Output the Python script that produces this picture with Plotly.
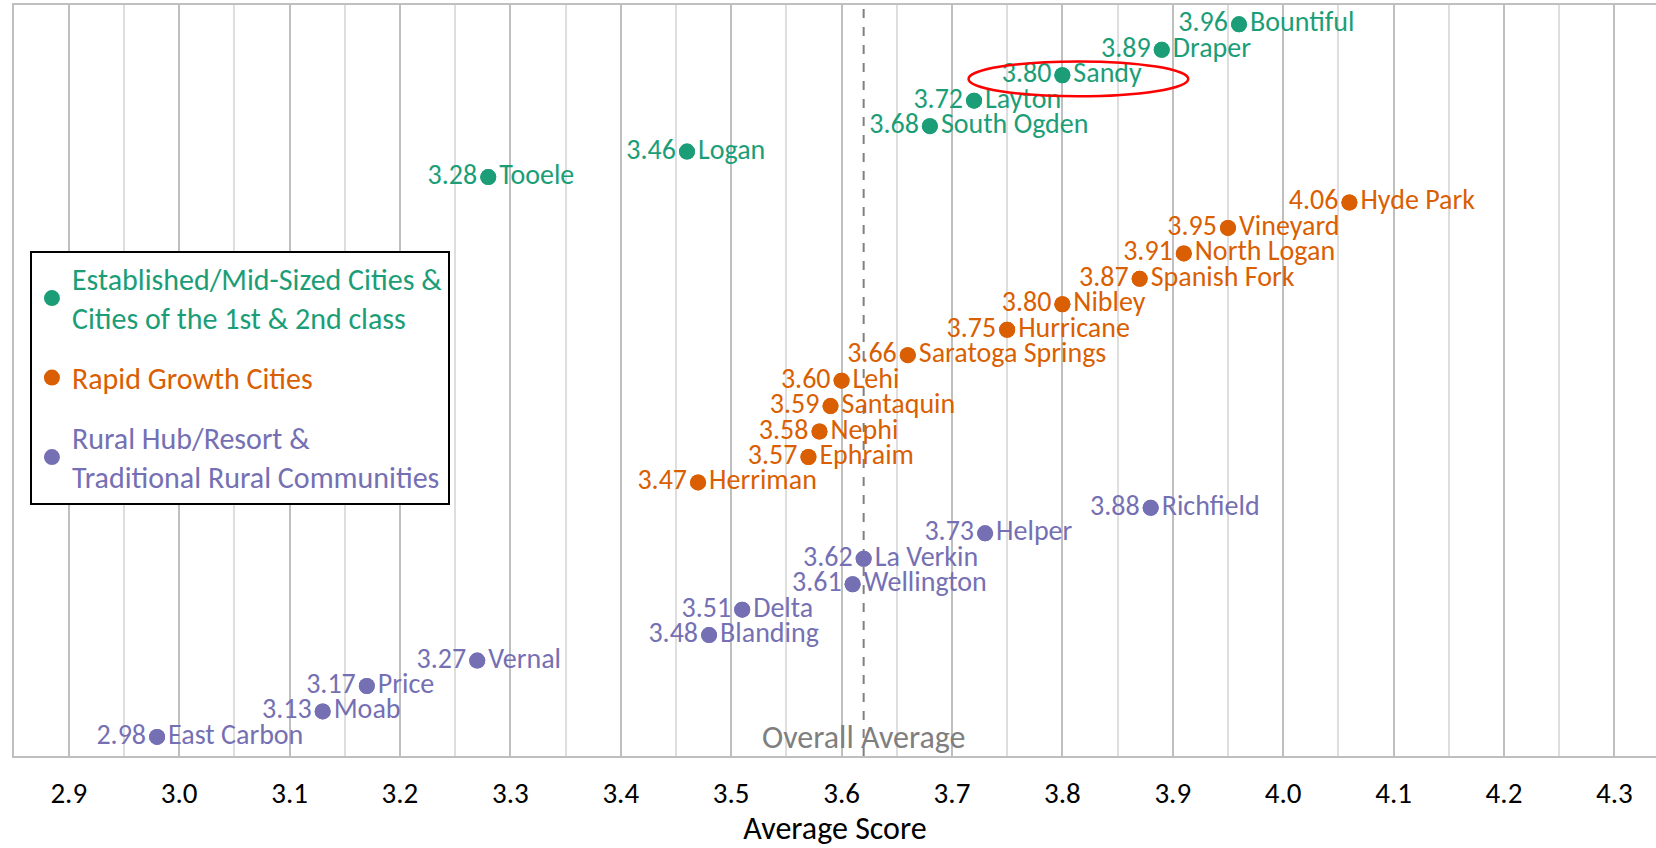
import plotly.graph_objects as go

# ---- data (top to bottom) ----
group_names = [
    "Established/Mid-Sized Cities &<br>Cities of the 1st & 2nd class",
    "Rapid Growth Cities",
    "Rural Hub/Resort &<br>Traditional Rural Communities",
]
group_colors = ["#1b9e77", "#d95f02", "#7570b3"]

established_cities = ["Bountiful", "Draper", "Sandy", "Layton", "South Ogden", "Logan", "Tooele"]
established_scores = [3.96, 3.89, 3.80, 3.72, 3.68, 3.46, 3.28]

rapid_cities = ["Hyde Park", "Vineyard", "North Logan", "Spanish Fork", "Nibley", "Hurricane",
                "Saratoga Springs", "Lehi", "Santaquin", "Nephi", "Ephraim", "Herriman"]
rapid_scores = [4.06, 3.95, 3.91, 3.87, 3.80, 3.75, 3.66, 3.60, 3.59, 3.58, 3.57, 3.47]

rural_cities = ["Richfield", "Helper", "La Verkin", "Wellington", "Delta", "Blanding",
                "Vernal", "Price", "Moab", "East Carbon"]
rural_scores = [3.88, 3.73, 3.62, 3.61, 3.51, 3.48, 3.27, 3.17, 3.13, 2.98]

overall_average = 3.62
highlight_city = "Sandy"
x_ticks = [2.9, 3.0, 3.1, 3.2, 3.3, 3.4, 3.5, 3.6, 3.7, 3.8, 3.9, 4.0, 4.1, 4.2, 4.3]

groups = [
    (established_cities, established_scores),
    (rapid_cities, rapid_scores),
    (rural_cities, rural_scores),
]

FONT = "Calibri, Carlito, Lato, sans-serif"
LABEL_SIZE = 28
total = sum(len(c) for c, _ in groups)

fig = go.Figure()
pos = total
highlight = None
for gi, ((cities, scores), gname, color) in enumerate(zip(groups, group_names, group_colors)):
    ys = list(range(pos, pos - len(cities), -1))
    pos -= len(cities)
    for c, s, y in zip(cities, scores, ys):
        if c == highlight_city:
            highlight = (s, y)
    fig.add_trace(go.Scatter(
        x=scores, y=ys, mode="markers+text",
        text=[f"{s:.2f}" for s in scores], textposition="middle left",
        textfont=dict(color=color, size=LABEL_SIZE, family=FONT),
        marker=dict(color=color, size=16),
        name=f"<span style='color:{color}'>{gname}</span>",
        legendgroup=f"g{gi}", showlegend=True, hoverinfo="skip",
    ))
    fig.add_trace(go.Scatter(
        x=scores, y=ys, mode="markers+text",
        text=cities, textposition="middle right",
        textfont=dict(color=color, size=LABEL_SIZE, family=FONT),
        marker=dict(color=color, size=16),
        legendgroup=f"g{gi}", showlegend=False, hoverinfo="skip",
    ))

# overall average dashed line
fig.add_shape(type="line", xref="x", yref="paper", x0=overall_average, x1=overall_average,
              y0=0, y1=1, line=dict(color="#808080", width=2, dash="dash"), layer="below")
fig.add_annotation(x=overall_average, xref="x", y=0, yref="paper", yanchor="bottom",
                   text="Overall Average", showarrow=False,
                   font=dict(color="#7f7f7f", size=32, family=FONT), yshift=-3)

# red ellipse highlight
if highlight:
    hx, hy = highlight
    fig.add_shape(type="circle", xref="x", yref="y",
                  x0=hx - 0.085, x1=hx + 0.114, y0=hy - 0.83, y1=hy + 0.54,
                  line=dict(color="#ff0000", width=2.5))

fig.update_layout(
    width=1656, height=848,
    margin=dict(l=14, r=0, t=5, b=92),
    plot_bgcolor="white", paper_bgcolor="white",
    font=dict(family=FONT, color="black"),
    showlegend=True,
    legend=dict(
        x=0.0097, y=0.673, xanchor="left", yanchor="top",
        bordercolor="black", borderwidth=2, bgcolor="white",
        font=dict(size=30, family=FONT),
        tracegroupgap=18,
    ),
    xaxis=dict(
        range=[2.8504, 4.3377], tickvals=x_ticks, ticktext=[f"{t:.1f}" for t in x_ticks],
        showgrid=True, gridcolor="#bfbfbf", gridwidth=2,
        minor=dict(dtick=0.05, tick0=2.85, showgrid=True, gridcolor="#dedede", gridwidth=1.5),
        showline=True, linecolor="#bfbfbf", linewidth=2, mirror=True,
        ticks="", ticklabelstandoff=10,
        tickfont=dict(size=29, family=FONT, color="black"),
        title=dict(text="Average Score", font=dict(size=32, family=FONT, color="black"), standoff=0),
        zeroline=False, automargin=False,
    ),
    yaxis=dict(
        range=[0.25, total + 0.76], showticklabels=False, showgrid=False, zeroline=False,
        showline=True, linecolor="#bfbfbf", linewidth=2, mirror=False, ticks="",
    ),
)

fig.write_html("out.html", config={"displayModeBar": False},
               post_script="document.body.style.margin='0';")
